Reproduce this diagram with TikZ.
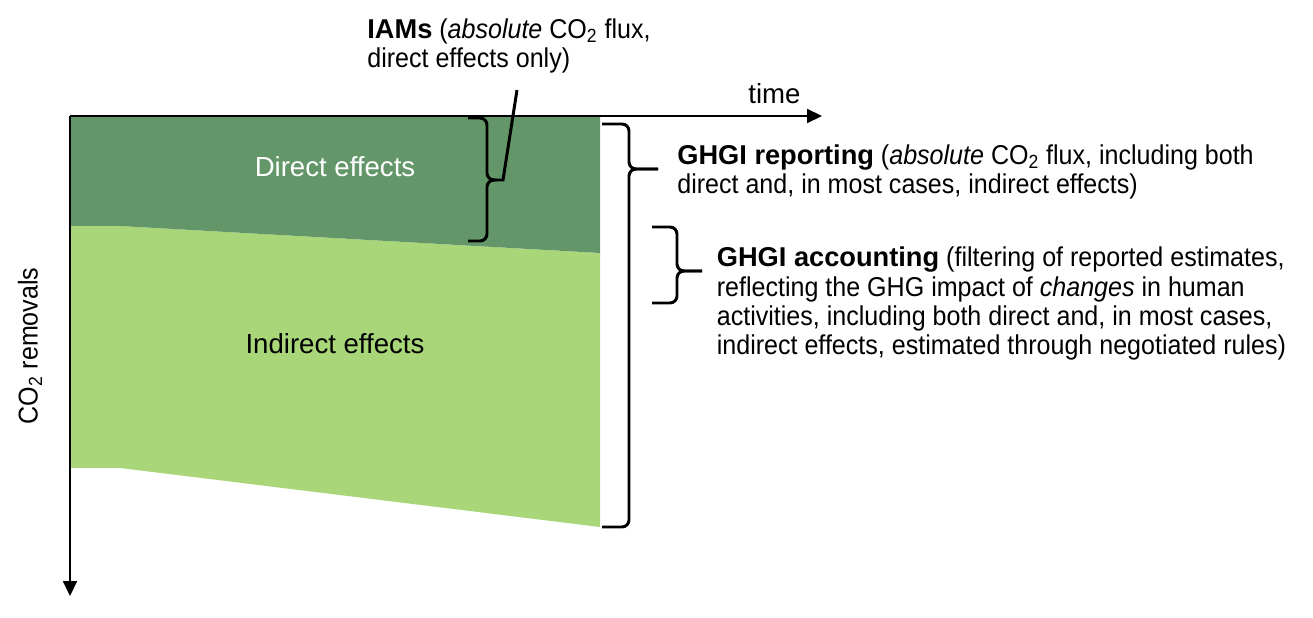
\documentclass[tikz,border=0pt]{standalone}
\usepackage{fontspec}
\setmainfont{Liberation Sans}
\newfontfamily\narrowfont[FakeStretch=0.92]{Liberation Sans}
\newcommand\hd[1]{{\rmfamily\bfseries #1}}
\usetikzlibrary{arrows.meta, positioning}
\definecolor{directgreen}{RGB}{99,151,106}
\definecolor{indirectgreen}{RGB}{168,214,121}
\tikzset{
  axis/.style={line width=0.9pt, -{Triangle[width=8pt,length=8.5pt]}},
  bracket/.style={line width=1.7pt, rounded corners=4pt},
  pointer/.style={line width=1.7pt},
  lbl/.style={font=\fontsize{15.7}{16.7}\selectfont, inner sep=0pt,
    align=left, anchor=base west},
  desc/.style={lbl, font=\narrowfont\fontsize{15.5}{16.7}\selectfont}
}
\begin{document}
\begin{tikzpicture}[x=0.02cm, y=-0.02cm]
  \useasboundingbox (0,0) rectangle (1313,618);
  % Areas
  \fill[indirectgreen] (70,226) -- (120,226) -- (600,253) -- (600,527) -- (120,468) -- (70,468) -- cycle;
  \fill[directgreen] (70,116) -- (600,116) -- (600,253) -- (120,226) -- (70,226) -- cycle;

  % Axes
  \coordinate (origin) at (70,116);
  \coordinate (timeend) at (822,116);
  \coordinate (removalsend) at (70,596);
  \draw[axis] (origin) -- (timeend);
  \draw[axis] (origin) -- (removalsend);
  \node[lbl] (time) at (748,104) {time};
  \node[desc, anchor=center, rotate=90] (removals) at (30,346) {CO\textsubscript{2} removals};

  % Area labels
  \node[lbl, anchor=center, text=white] (direct) at (335,167) {Direct effects};
  \node[lbl, anchor=center] (indirect) at (335,344) {Indirect effects};

  % Braces
  \coordinate (iamtip) at (496,180);
  \draw[bracket] (468,118) -- (487,118) -- (487,180) -- (iamtip);
  \draw[bracket] (468,241) -- (487,241) -- (487,180) -- (iamtip);
  \coordinate (reptip) at (658,169);
  \draw[bracket] (602,124) -- (629,124) -- (629,169) -- (reptip);
  \draw[bracket] (602,527) -- (629,527) -- (629,169) -- (reptip);
  \coordinate (acctip) at (702,271);
  \draw[bracket] (652,227) -- (677,227) -- (677,271) -- (acctip);
  \draw[bracket] (652,303) -- (677,303) -- (677,271) -- (acctip);

  % Descriptions
  \node[desc] (iams) at (367,67.5) {\hd{IAMs} (\textit{absolute} CO\textsubscript{2} flux,\\direct effects only)};
  \coordinate (iamfoot) at (517,90);
  \draw[pointer] (iamtip) -- (503,180) -- (iamfoot);
  \node[desc] (reporting) at (677,193.5) {\hd{GHGI reporting} (\textit{absolute} CO\textsubscript{2} flux, including both\\direct and, in most cases, indirect effects)};
  \node[desc] (accounting) at (716.5,355) {\hd{GHGI accounting} (filtering of reported estimates,\\reflecting the GHG impact of \textit{changes} in human\\activities, including both direct and, in most cases,\\indirect effects, estimated through negotiated rules)};
\end{tikzpicture}
\end{document}
